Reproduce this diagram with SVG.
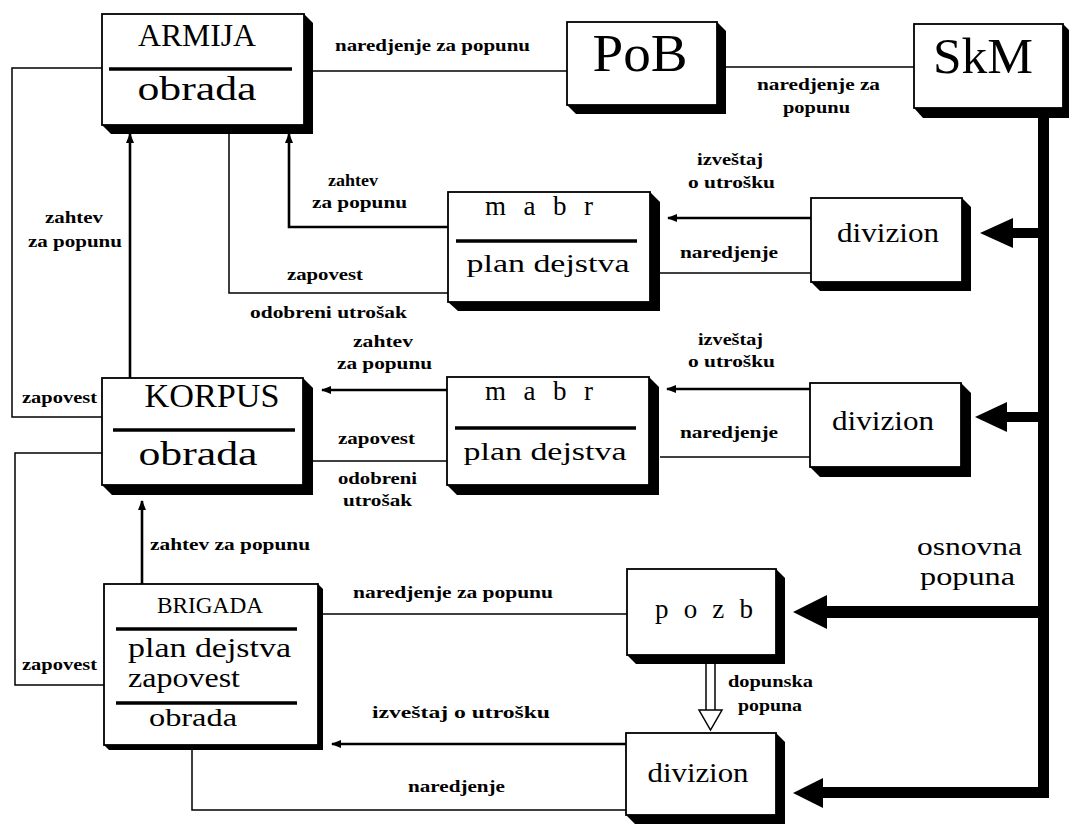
<svg xmlns="http://www.w3.org/2000/svg" width="1069" height="824" viewBox="0 0 1069 824" font-family="'Liberation Serif', 'DejaVu Serif', serif">
<style>
.box{fill:#fff;stroke:#000;stroke-width:1.8}
.sh{fill:#000}
.div{stroke:#000;stroke-width:3.5}
text{font-family:'Liberation Serif','DejaVu Serif',serif}
.t{fill:#000}
.lbl{font-weight:bold;font-size:17px;fill:#000}
.thin{fill:none;stroke:#000;stroke-width:1.5}
.arr{fill:none;stroke:#000;stroke-width:2.6;marker-end:url(#ah)}
</style>
<defs>
<marker id="ah" viewBox="0 0 10 8" refX="9" refY="4" markerWidth="10" markerHeight="8" markerUnits="userSpaceOnUse" orient="auto">
<path d="M0,0 L10,4 L0,8 z" fill="#000"/>
</marker>
</defs>
<rect width="1069" height="824" fill="#fff"/>

<g id="connectors">
<polyline class="thin" points="102,68 12,68 12,417 102,417"/>
<line class="thin" x1="313" y1="71" x2="567" y2="71"/>
<line class="thin" x1="725" y1="67" x2="914" y2="67"/>
<line class="arr" x1="130" y1="378" x2="130" y2="134"/>
<polyline class="thin" points="229,133 229,293 448,293"/>
<polyline class="arr" points="448,227 289,227 289,134"/>
<line class="arr" x1="811" y1="218" x2="668" y2="218"/>
<line class="thin" x1="660" y1="273" x2="811" y2="273"/>
<line class="arr" x1="447" y1="390" x2="322" y2="390"/>
<line class="thin" x1="313" y1="461" x2="447" y2="461"/>
<line class="arr" x1="810" y1="389" x2="667" y2="389"/>
<line class="thin" x1="660" y1="457" x2="810" y2="457"/>
<polyline class="thin" points="102,453 15,453 15,685 104,685"/>
<line class="arr" x1="142" y1="584" x2="142" y2="501"/>
<line class="thin" x1="322" y1="614" x2="627" y2="614"/>
<line class="arr" x1="626" y1="744" x2="332" y2="744"/>
<polyline class="thin" points="192,750 192,810 626,810"/>
<line class="thin" x1="706" y1="664" x2="706" y2="710"/>
<line class="thin" x1="715" y1="664" x2="715" y2="710"/>
<polygon points="699,710 722,710 710.5,730" fill="#fff" stroke="#000" stroke-width="1.5"/>
<rect x="1038" y="115" width="11" height="683" fill="#000"/>
<rect x="1010" y="228" width="30" height="10" fill="#000"/>
<polygon points="980,233 1013,218 1013,248" fill="#000"/>
<rect x="1005" y="412" width="35" height="10" fill="#000"/>
<polygon points="975,417 1007,402 1007,432" fill="#000"/>
<rect x="825" y="606" width="215" height="12" fill="#000"/>
<polygon points="793,612 827,595 827,629" fill="#000"/>
<rect x="820" y="787" width="229" height="11" fill="#000"/>
<polygon points="793,793 823,778 823,808" fill="#000"/>
</g>

<g id="armija">
<polygon class="sh" points="304,14 313,23 313,134 111,134 102,125"/>
<rect class="box" x="102" y="14" width="202" height="111"/>
<text class="t" x="197" y="46" font-size="32" text-anchor="middle" textLength="118" lengthAdjust="spacingAndGlyphs">ARMIJA</text>
<line class="div" x1="109" y1="69" x2="292" y2="69"/>
<text class="t" x="197" y="100" font-size="34" text-anchor="middle" textLength="119" lengthAdjust="spacingAndGlyphs">obrada</text>
</g>

<g id="pob">
<polygon class="sh" points="717,22 726,31 726,114 576,114 567,105"/>
<rect class="box" x="567" y="22" width="150" height="83"/>
<text class="t" x="640" y="71" font-size="52" text-anchor="middle" textLength="95" lengthAdjust="spacingAndGlyphs">PoB</text>
</g>

<g id="skm">
<polygon class="sh" points="1063,24 1069,30 1069,118 923,118 914,108"/>
<rect class="box" x="914" y="24" width="149" height="84"/>
<text class="t" x="983" y="73" font-size="50" text-anchor="middle" textLength="100" lengthAdjust="spacingAndGlyphs">SkM</text>
</g>

<g id="mabr1">
<polygon class="sh" points="650,192 660,202 660,311 458,311 448,302"/>
<rect class="box" x="448" y="192" width="202" height="110"/>
<text class="t" x="539" y="215" font-size="27" text-anchor="middle" textLength="108">m a b r</text>
<line class="div" x1="456" y1="241" x2="637" y2="241"/>
<text class="t" x="548" y="272" font-size="26" text-anchor="middle" textLength="163" lengthAdjust="spacingAndGlyphs">plan dejstva</text>
</g>

<g id="divizion1">
<polygon class="sh" points="962,198 971,207 971,291 820,291 811,282"/>
<rect class="box" x="811" y="198" width="151" height="84"/>
<text class="t" x="888" y="242" font-size="28" text-anchor="middle" textLength="102" lengthAdjust="spacingAndGlyphs">divizion</text>
</g>

<g id="korpus">
<polygon class="sh" points="303,378 313,388 313,495 112,495 102,485"/>
<rect class="box" x="102" y="378" width="201" height="107"/>
<text class="t" x="212" y="407" font-size="33" text-anchor="middle" textLength="135" lengthAdjust="spacingAndGlyphs">KORPUS</text>
<line class="div" x1="113" y1="430" x2="295" y2="430"/>
<text class="t" x="198" y="465" font-size="34" text-anchor="middle" textLength="119" lengthAdjust="spacingAndGlyphs">obrada</text>
</g>

<g id="mabr2">
<polygon class="sh" points="649,377 659,387 659,495 457,495 447,485"/>
<rect class="box" x="447" y="377" width="202" height="108"/>
<text class="t" x="539" y="400" font-size="27" text-anchor="middle" textLength="108">m a b r</text>
<line class="div" x1="455" y1="428" x2="636" y2="428"/>
<text class="t" x="545" y="460" font-size="26" text-anchor="middle" textLength="163" lengthAdjust="spacingAndGlyphs">plan dejstva</text>
</g>

<g id="divizion2">
<polygon class="sh" points="961,383 971,393 971,477 820,477 810,467"/>
<rect class="box" x="810" y="383" width="151" height="84"/>
<text class="t" x="883" y="430" font-size="28" text-anchor="middle" textLength="102" lengthAdjust="spacingAndGlyphs">divizion</text>
</g>

<g id="brigada">
<polygon class="sh" points="318,584 323,589 323,750 109,750 104,745"/>
<rect class="box" x="104" y="584" width="214" height="161"/>
<text class="t" x="210" y="613" font-size="24" text-anchor="middle" textLength="106" lengthAdjust="spacingAndGlyphs">BRIGADA</text>
<line class="div" x1="116" y1="629" x2="297" y2="629"/>
<text class="t" x="128" y="657" font-size="27" textLength="163" lengthAdjust="spacingAndGlyphs">plan dejstva</text>
<text class="t" x="128" y="687" font-size="27" textLength="112" lengthAdjust="spacingAndGlyphs">zapovest</text>
<line class="div" x1="116" y1="703" x2="297" y2="703"/>
<text class="t" x="193" y="726" font-size="26" text-anchor="middle" textLength="88" lengthAdjust="spacingAndGlyphs">obrada</text>
</g>

<g id="pozb">
<polygon class="sh" points="776,569 785,578 785,664 636,664 627,655"/>
<rect class="box" x="627" y="569" width="149" height="86"/>
<text class="t" x="704" y="618" font-size="27" text-anchor="middle" textLength="98">p o z b</text>
</g>

<g id="divizion3">
<polygon class="sh" points="776,733 785,742 785,824 635,824 626,815"/>
<rect class="box" x="626" y="733" width="150" height="82"/>
<text class="t" x="698" y="782" font-size="28" text-anchor="middle" textLength="101" lengthAdjust="spacingAndGlyphs">divizion</text>
</g>

<g id="labels">
<text class="lbl" x="335" y="51" textLength="195" lengthAdjust="spacingAndGlyphs">naredjenje za popunu</text>
<text class="lbl" x="757" y="90" textLength="123" lengthAdjust="spacingAndGlyphs">naredjenje za</text>
<text class="lbl" x="783" y="113" textLength="67" lengthAdjust="spacingAndGlyphs">popunu</text>
<text class="lbl" x="697" y="165" textLength="66" lengthAdjust="spacingAndGlyphs">izveštaj</text>
<text class="lbl" x="688" y="188" textLength="87" lengthAdjust="spacingAndGlyphs">o utrošku</text>
<text class="lbl" x="328" y="186" textLength="50" lengthAdjust="spacingAndGlyphs">zahtev</text>
<text class="lbl" x="312" y="208" textLength="95" lengthAdjust="spacingAndGlyphs">za popunu</text>
<text class="lbl" x="680" y="258" textLength="98" lengthAdjust="spacingAndGlyphs">naredjenje</text>
<text class="lbl" x="45" y="223" textLength="58" lengthAdjust="spacingAndGlyphs">zahtev</text>
<text class="lbl" x="28" y="247" textLength="94" lengthAdjust="spacingAndGlyphs">za popunu</text>
<text class="lbl" x="287" y="280" textLength="76" lengthAdjust="spacingAndGlyphs">zapovest</text>
<text class="lbl" x="250" y="318" textLength="157" lengthAdjust="spacingAndGlyphs">odobreni utrošak</text>
<text class="lbl" x="353" y="347" textLength="60" lengthAdjust="spacingAndGlyphs">zahtev</text>
<text class="lbl" x="337" y="369" textLength="95" lengthAdjust="spacingAndGlyphs">za popunu</text>
<text class="lbl" x="698" y="345" textLength="65" lengthAdjust="spacingAndGlyphs">izveštaj</text>
<text class="lbl" x="688" y="367" textLength="87" lengthAdjust="spacingAndGlyphs">o utrošku</text>
<text class="lbl" x="22" y="403" textLength="75" lengthAdjust="spacingAndGlyphs">zapovest</text>
<text class="lbl" x="680" y="438" textLength="98" lengthAdjust="spacingAndGlyphs">naredjenje</text>
<text class="lbl" x="338" y="444" textLength="77" lengthAdjust="spacingAndGlyphs">zapovest</text>
<text class="lbl" x="338" y="484" textLength="79" lengthAdjust="spacingAndGlyphs">odobreni</text>
<text class="lbl" x="343" y="506" textLength="69" lengthAdjust="spacingAndGlyphs">utrošak</text>
<text class="lbl" x="150" y="550" textLength="160" lengthAdjust="spacingAndGlyphs">zahtev za popunu</text>
<text class="lbl" x="353" y="598" textLength="200" lengthAdjust="spacingAndGlyphs">naredjenje za popunu</text>
<text class="lbl" x="22" y="670" textLength="75" lengthAdjust="spacingAndGlyphs">zapovest</text>
<text class="lbl" x="728" y="687" font-size="16" textLength="85" lengthAdjust="spacingAndGlyphs">dopunska</text>
<text class="lbl" x="738" y="711" font-size="16" textLength="64" lengthAdjust="spacingAndGlyphs">popuna</text>
<text class="lbl" x="372" y="718" textLength="178" lengthAdjust="spacingAndGlyphs">izveštaj o utrošku</text>
<text class="lbl" x="408" y="792" textLength="97" lengthAdjust="spacingAndGlyphs">naredjenje</text>
<text class="t" x="917" y="555" font-size="25" textLength="105" lengthAdjust="spacingAndGlyphs">osnovna</text>
<text class="t" x="920" y="585" font-size="25" textLength="95" lengthAdjust="spacingAndGlyphs">popuna</text>
</g>
</svg>
